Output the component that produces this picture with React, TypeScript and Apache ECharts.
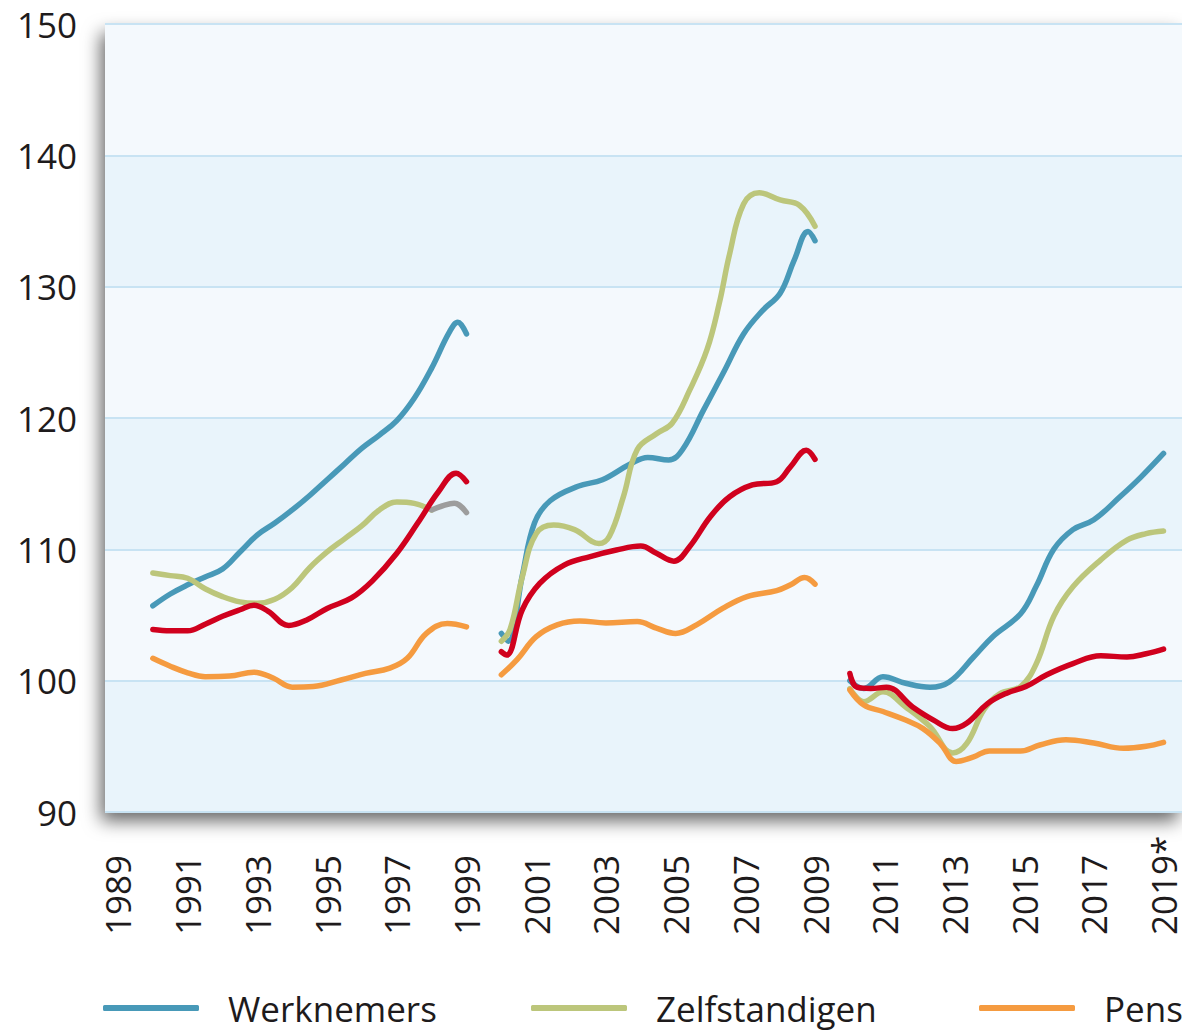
import React, { useEffect, useRef } from "react";
import * as echarts from "echarts";

const yearTicks = [1989, 1991, 1993, 1995, 1997, 1999, 2001, 2003, 2005, 2007, 2009, 2011, 2013, 2015, 2017, 2019];
const yTicks = [90, 100, 110, 120, 130, 140, 150];

const legendNames = ["Werknemers", "Zelfstandigen", "Pensioenontvangers"];
const redName = "Uitkeringsgerechtigden";
const greyName = "Zelfstandigen (oude reeks)";

// Werknemers
const werk1990s = [[1990.0,105.7],[1990.5,106.6],[1991.0,107.3],[1991.5,107.9],[1992.0,108.5],[1992.5,109.8],[1993.0,111.1],[1993.5,112.0],[1994.0,113.0],[1994.5,114.1],[1995.0,115.3],[1995.5,116.5],[1996.0,117.7],[1996.5,118.7],[1997.0,119.8],[1997.5,121.5],[1998.0,123.8],[1998.5,126.5],[1998.75,127.3],[1999.0,126.4]];
const werk2000s = [[2000.0,103.6],[2000.2,103.0],[2000.6,108.0],[2000.95,112.0],[2001.4,113.7],[2002.2,114.8],[2002.9,115.3],[2003.7,116.5],[2004.2,117.0],[2004.8,116.8],[2005.2,117.6],[2005.8,120.6],[2006.4,123.6],[2006.95,126.4],[2007.5,128.2],[2008.0,129.5],[2008.4,132.0],[2008.8,134.2],[2009.0,133.5]];
const werk2010s = [[2010.0,100.0],[2010.4,99.4],[2010.95,100.3],[2011.6,99.8],[2012.3,99.5],[2012.85,99.9],[2013.55,101.8],[2014.1,103.35],[2014.9,105.1],[2015.35,107.2],[2015.85,110.0],[2016.4,111.5],[2017.0,112.25],[2017.75,114.0],[2018.35,115.5],[2019.0,117.3]];

// Zelfstandigen
const zelf1990s = [[1990.0,108.2],[1990.5,108.0],[1991.0,107.8],[1991.5,107.0],[1992.0,106.4],[1992.5,106.0],[1993.0,105.9],[1993.5,106.2],[1994.0,107.1],[1994.5,108.6],[1995.0,109.8],[1995.5,110.8],[1996.0,111.8],[1996.5,113.0],[1997.0,113.6],[1997.5,113.5],[1998.0,113.0]];
const zelf2000s = [[2000.0,103.0],[2000.25,103.9],[2000.6,107.9],[2001.0,111.2],[2001.5,111.85],[2002.1,111.5],[2002.8,110.45],[2003.1,111.0],[2003.5,114.0],[2003.9,117.6],[2004.45,118.8],[2004.9,119.6],[2005.4,122.1],[2005.9,125.2],[2006.25,128.7],[2006.55,132.5],[2006.95,136.3],[2007.4,137.15],[2008.0,136.6],[2008.55,136.2],[2009.0,134.6]];
const zelf2010s = [[2010.0,99.4],[2010.4,98.4],[2010.95,99.15],[2011.6,98.0],[2012.3,96.5],[2012.95,94.5],[2013.35,95.2],[2013.85,97.8],[2014.3,99.0],[2014.9,99.55],[2015.35,101.3],[2015.85,104.9],[2016.4,107.15],[2017.2,109.2],[2017.95,110.7],[2018.5,111.2],[2019.0,111.4]];
const grey1990s = [[1998.0,113.0],[1998.3,113.3],[1998.65,113.5],[1999.0,112.8]];

// Pensioenontvangers
const pens1990s = [[1990.0,101.7],[1990.5,101.1],[1991.0,100.6],[1991.5,100.3],[1992.2,100.35],[1992.9,100.65],[1993.45,100.2],[1994.0,99.5],[1994.6,99.55],[1995.4,100.05],[1996.1,100.55],[1996.8,100.95],[1997.3,101.7],[1997.85,103.6],[1998.45,104.35],[1999.0,104.1]];
const pens2000s = [[2000.0,100.45],[2000.45,101.6],[2001.0,103.35],[2001.6,104.25],[2002.25,104.55],[2003.0,104.4],[2003.9,104.5],[2004.45,104.0],[2005.0,103.6],[2005.6,104.25],[2006.35,105.5],[2007.05,106.4],[2007.9,106.85],[2008.3,107.3],[2008.7,107.85],[2009.0,107.35]];
const pens2010s = [[2010.0,99.3],[2010.4,98.15],[2010.95,97.65],[2011.6,97.0],[2012.1,96.35],[2012.6,95.2],[2013.05,93.85],[2013.55,94.2],[2014.0,94.65],[2014.9,94.65],[2015.45,95.1],[2016.2,95.5],[2017.0,95.25],[2017.85,94.85],[2018.5,95.0],[2019.0,95.3]];

// Uitkeringsgerechtigden (red)
const red1990s = [[1990.0,103.9],[1990.5,103.8],[1991.0,103.8],[1991.5,104.3],[1992.0,104.9],[1992.5,105.4],[1992.9,105.75],[1993.3,105.3],[1993.9,104.2],[1994.4,104.6],[1995.0,105.5],[1995.7,106.3],[1996.3,107.6],[1997.0,109.7],[1997.6,112.0],[1998.2,114.4],[1998.7,115.8],[1999.0,115.15]];
const red2000s = [[2000.0,102.2],[2000.15,101.95],[2000.6,105.4],[2001.1,107.4],[2001.8,108.8],[2002.55,109.45],[2003.3,109.95],[2004.0,110.25],[2004.45,109.7],[2004.95,109.1],[2005.4,110.2],[2006.0,112.5],[2006.55,114.0],[2007.2,114.9],[2007.9,115.15],[2008.3,116.3],[2008.75,117.55],[2009.0,116.85]];
const red2010s = [[2010.0,100.55],[2010.2,99.5],[2010.6,99.4],[2011.05,99.5],[2011.8,98.0],[2012.4,97.0],[2012.95,96.35],[2013.35,96.75],[2013.95,98.25],[2014.5,99.05],[2015.05,99.55],[2015.65,100.45],[2016.4,101.3],[2017.2,101.9],[2017.95,101.8],[2018.5,102.05],[2019.0,102.4]];

const BLUE = "#4899b8";
const GREEN = "#bcc67b";
const ORANGE = "#f59b40";
const RED = "#d0011e";
const GREY = "#9d9d9d";
const FONT = "'Open Sans', sans-serif";
const TEXT = "#1e1b1c";

function line(name: string, data: number[][], color: string) {
  return {
    type: "line",
    name,
    data,
    smooth: 0.4,
    showSymbol: false,
    symbol: "none",
    lineStyle: { color, width: 5.5, cap: "round", join: "round" },
    itemStyle: { color },
    emphasis: { disabled: true },
  };
}

export default function App() {
  const ref = useRef<HTMLDivElement>(null);
  useEffect(() => {
    if (!ref.current) return;
    const chart = echarts.init(ref.current, null, { renderer: "svg" });
    const legendBase = (name: string, left: number) => ({
      data: [{ name, icon: "roundRect" }],
      left,
      top: 990,
      itemWidth: 96,
      itemHeight: 6,
      itemGap: 0,
      padding: 0,
      selectedMode: false,
      textStyle: { fontFamily: FONT, fontSize: 35, lineHeight: 36, color: TEXT, padding: [0, 0, 0, 24] },
    });
    chart.setOption({
      animation: false,
      legend: [
        legendBase(legendNames[0], 103),
        legendBase(legendNames[1], 531),
        legendBase(legendNames[2], 979),
      ],
      grid: {
        left: 105,
        right: 0,
        top: 24,
        bottom: 219,
        show: true,
        backgroundColor: "#f4f9fd",
        borderWidth: 0,
        shadowColor: "rgba(0,0,0,0.6)",
        shadowBlur: 18,
        shadowOffsetX: -4,
        shadowOffsetY: 9,
      },
      xAxis: {
        type: "value",
        min: 1988.627,
        max: 2019.53,
        axisLine: { show: false },
        axisTick: { show: false },
        splitLine: { show: false },
        axisLabel: {
          customValues: yearTicks,
          rotate: 90,
          align: "left",
          margin: 123,
          fontFamily: FONT,
          fontSize: 35,
          color: TEXT,
          formatter: (v: number) => (v === 2019 ? "2019*" : String(v)),
        },
      },
      yAxis: {
        type: "value",
        min: yTicks[0],
        max: yTicks[yTicks.length - 1],
        interval: 10,
        axisLine: { show: false },
        axisTick: { show: false },
        axisLabel: { margin: 28, fontFamily: FONT, fontSize: 35, color: TEXT },
        splitLine: { show: true, lineStyle: { color: "#c8e3f3", width: 2 } },
        splitArea: { show: true, areaStyle: { color: ["#e9f4fb", "#f4f9fd"] } },
      },
      series: [
        line(legendNames[0], werk1990s, BLUE),
        line(legendNames[0], werk2000s, BLUE),
        line(legendNames[0], werk2010s, BLUE),
        line(legendNames[1], zelf1990s, GREEN),
        line(legendNames[1], zelf2000s, GREEN),
        line(legendNames[1], zelf2010s, GREEN),
        line(greyName, grey1990s, GREY),
        line(legendNames[2], pens1990s, ORANGE),
        line(legendNames[2], pens2000s, ORANGE),
        line(legendNames[2], pens2010s, ORANGE),
        line(redName, red1990s, RED),
        line(redName, red2000s, RED),
        line(redName, red2010s, RED),
      ],
    });
    return () => chart.dispose();
  }, []);
  return (
    <div style={{ position: "fixed", left: 0, top: 0, width: 1182, height: 1031, overflow: "hidden", background: "#fff" }}>
      <div ref={ref} style={{ width: 1182, height: 1031 }} />
    </div>
  );
}
